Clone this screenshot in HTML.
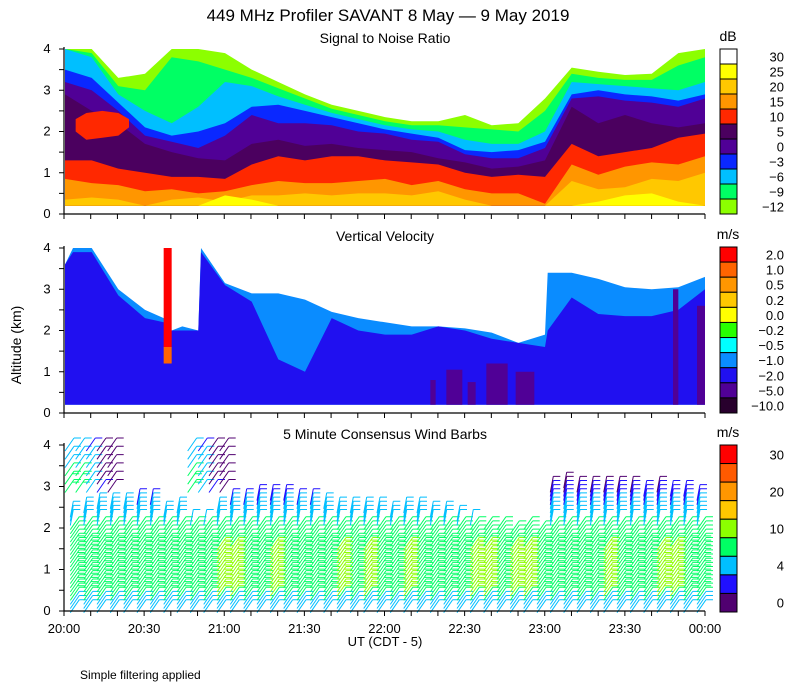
<!DOCTYPE html>
<html><head><meta charset="utf-8"><style>
html,body{margin:0;padding:0;background:#fff;}
svg{display:block;font-family:"Liberation Sans",sans-serif;}
</style></head><body>
<svg id="chart" width="800" height="700" viewBox="0 0 800 700" xmlns="http://www.w3.org/2000/svg">
<rect width="800" height="700" fill="#fff"/>
<text x="388" y="21" font-size="17" text-anchor="middle">449 MHz Profiler SAVANT  8 May —  9 May 2019</text>
<text x="385" y="43" font-size="14" text-anchor="middle">Signal to Noise Ratio</text>
<text x="385" y="241" font-size="14" text-anchor="middle">Vertical Velocity</text>
<text x="385" y="439" font-size="14" text-anchor="middle">5 Minute Consensus Wind Barbs</text>
<text x="0" y="0" font-size="14" text-anchor="middle" transform="translate(21,345) rotate(-90)">Altitude (km)</text>
<text x="385" y="646" font-size="13" text-anchor="middle">UT  (CDT - 5)</text>
<text x="80" y="679" font-size="12">Simple filtering applied</text>
<g id="g1"></g>
<g id="g2"></g>
<g id="g3"></g>
<g id="gax"></g>
<g id="gcb"></g>
</svg>
<script>
// ---------- data ----------
const snrTimes = [0,10,20,30,40,50,60,70,80,90,100,110,120,130,140,150,160,170,180,190,200,210,220,230,240];
const snrTopM12 = [4.0,4.0,3.3,3.4,4.0,4.0,3.9,3.5,3.2,2.9,2.65,2.5,2.35,2.25,2.25,2.4,2.15,2.2,2.8,3.55,3.45,3.37,3.4,3.9,4.0];
const snrTopM9  = [4.0,3.9,3.1,3.0,3.8,3.7,3.5,3.3,3.05,2.8,2.55,2.4,2.25,2.15,2.15,2.1,2.05,2.0,2.5,3.4,3.3,3.25,3.25,3.6,3.8];
const snrTopM6  = [4.0,3.8,2.9,2.5,2.2,2.6,3.2,3.1,2.85,2.65,2.45,2.3,2.15,2.05,2.0,1.8,1.7,1.7,2.0,3.2,3.15,3.1,3.05,3.0,3.2];
const snrTopM3  = [3.5,3.3,2.7,2.1,1.9,2.0,2.2,2.6,2.65,2.5,2.35,2.2,2.05,1.95,1.85,1.55,1.5,1.55,1.75,2.9,3.0,2.9,2.85,2.75,2.9];
const snrTop0   = [3.2,3.0,2.5,1.9,1.75,1.6,1.9,2.4,2.2,2.2,2.15,2.0,1.95,1.8,1.75,1.45,1.35,1.35,1.6,2.8,2.85,2.75,2.7,2.6,2.8];
const snrTop5   = [2.9,2.5,2.2,1.7,1.5,1.35,1.3,1.7,1.8,1.65,1.7,1.6,1.55,1.5,1.35,1.25,1.1,1.15,1.3,2.6,2.2,2.4,2.2,2.1,2.2];
const snrTop10  = [1.3,1.3,1.1,1.0,0.9,0.9,0.85,1.2,1.4,1.3,1.4,1.4,1.3,1.25,1.2,1.0,0.9,0.95,0.9,1.7,1.4,1.5,1.6,1.85,1.95];
const snrTop15  = [0.85,0.75,0.7,0.55,0.6,0.5,0.55,0.7,0.8,0.75,0.75,0.8,0.85,0.7,0.8,0.6,0.5,0.5,0.25,1.2,0.95,1.15,1.25,1.2,1.4];
const snrTop20  = [0.35,0.4,0.35,0.2,0.35,0.4,0.3,0.45,0.45,0.5,0.45,0.5,0.5,0.45,0.55,0.35,0.2,0.2,0.2,0.8,0.6,0.65,0.85,0.8,1.0];
const snrTop25  = [0.2,0.2,0.2,0.2,0.2,0.2,0.45,0.35,0.2,0.2,0.2,0.2,0.2,0.2,0.2,0.2,0.2,0.2,0.2,0.2,0.3,0.45,0.5,0.3,0.2];
const snrBlobTimes = [4,8,14,20,24];
const snrBlobLow = [2.0,1.8,1.85,1.9,2.1];
const snrBlobHigh = [2.3,2.45,2.5,2.45,2.3];

const vvTimes = [0,3,10,20,30,37,40,44,50,51,60,70,80,90,100,110,120,130,140,150,160,170,180,181,190,200,210,220,230,240];
const vvTop   = [3.6,4.0,4.0,3.0,2.5,2.3,2.0,2.1,2.0,4.0,3.15,2.9,2.9,2.75,2.45,2.3,2.2,2.1,2.1,2.05,1.95,1.7,1.9,3.4,3.4,3.25,3.05,3.0,3.05,3.3];
const vvBlueTop = [3.6,3.9,3.9,2.85,2.3,2.2,2.0,2.0,2.0,3.9,3.1,2.7,1.3,1.0,2.3,2.0,1.9,1.9,2.1,2.0,1.8,1.7,1.6,2.0,2.8,2.4,2.35,2.35,2.5,3.0];
const vvPurpleStart = [137,143,151,158,169,228,237];
const vvPurpleEnd   = [139,149,154,166,176,230,240];
const vvPurpleTop   = [0.8,1.05,0.75,1.2,1.0,3.0,2.6];
const vvRedStart = 37, vvRedEnd = 40, vvRedTop = 4.0, vvRedBottom = 1.6, vvOrangeBottom = 1.2;

const windTimes = [2,7,12,17,22,27,32,37,42,47,52,57,62,67,72,77,82,87,92,97,102,107,112,117,122,127,132,137,142,147,152,157,162,167,172,177,182,187,192,197,202,207,212,217,222,227,232,237];
const windColTop = [2.5,2.6,2.7,2.7,2.7,2.8,2.8,2.5,2.6,2.3,2.3,2.6,2.8,2.8,2.9,2.9,2.9,2.8,2.8,2.7,2.6,2.6,2.6,2.6,2.5,2.6,2.6,2.5,2.5,2.4,2.3,2.2,2.2,2.1,2.2,2.1,3.1,3.2,3.1,3.1,3.1,3.1,3.1,3.0,3.1,3.0,3.0,2.9];
const windColAdj = [0,0,0,0,0,0,0,0,0,0,0,2,2,0,0,2,0,0,0,0,2,0,2,0,0,2,0,0,0,0,2,2,0,2,2,0,0,0,0,0,2,0,0,0,2,2,0,0];
const windLevels = [0.2,0.3,0.4,0.5,0.6,0.7,0.8,0.9,1.0,1.1,1.2,1.3,1.4,1.5,1.6,1.7,1.8,1.9,2.0,2.1,2.2,2.3,2.4,2.5,2.6,2.7,2.8,2.9,3.0,3.1,3.2];
const windSpeeds = [5,6,6,7,8,8,8,9,9,9,8,8,8,8,8,8,8,7,7,7,7,6,5,5,5,4,3,3,3,2,2];
const windUpTimes = [0,4,8,12,16,46,50,54,58];
const windUpLevels = [3.0,3.2,3.4,3.6,3.8,4.0];
const windUpSpeeds = [8,8,6,3,2,8,6,3,2];

// ---------- helpers ----------
const NS='http://www.w3.org/2000/svg';
const X0=64, X1=705;
const P=[{top:49,bot:214},{top:248,bot:413},{top:445,bot:611}];
function xT(t){return X0+1+t*(X1-X0-1)/240;}
function yK(p,km){return P[p].bot-km*(P[p].bot-P[p].top)/4;}
function mk(tag,attrs,parent){const e=document.createElementNS(NS,tag);for(const k in attrs)e.setAttribute(k,attrs[k]);parent.appendChild(e);return e;}
function area(g,p,times,tops,base,color,name){
  let d='M'+xT(times[0])+','+yK(p,base);
  for(let i=0;i<times.length;i++)d+=' L'+xT(times[i]).toFixed(1)+','+yK(p,tops[i]).toFixed(1);
  d+=' L'+xT(times[times.length-1])+','+yK(p,base)+' Z';
  const e=mk('path',{d:d,fill:color},g);
  
  
}
const g1=document.getElementById('g1'),g2=document.getElementById('g2'),g3=document.getElementById('g3'),gax=document.getElementById('gax'),gcb=document.getElementById('gcb');

// ---------- SNR ----------
const snrCols=['#8cff00','#00ff64','#00bfff','#0a28ff','#500096','#4b005f','#ff2800','#ff9600','#ffc800','#ffff00'];
const snrLayers=[snrTopM12,snrTopM9,snrTopM6,snrTopM3,snrTop0,snrTop5,snrTop10,snrTop15,snrTop20,snrTop25];
snrLayers.forEach((L,i)=>area(g1,0,snrTimes,L,0.2,snrCols[i],'snr-level-'+i));
{
  let d='M'+xT(snrBlobTimes[0])+','+yK(0,snrBlobLow[0]);
  for(let i=0;i<snrBlobTimes.length;i++)d+=' L'+xT(snrBlobTimes[i])+','+yK(0,snrBlobHigh[i]);
  for(let i=snrBlobTimes.length-1;i>=0;i--)d+=' L'+xT(snrBlobTimes[i])+','+yK(0,snrBlobLow[i]);
  const e=mk('path',{d:d+'Z',fill:'#ff2800'},g1);
  
  
}

// ---------- Vertical velocity ----------
area(g2,1,vvTimes,vvTop,0.2,'#0a8cff','vv-light-blue');
area(g2,1,vvTimes,vvBlueTop,0.2,'#2010f0','vv-blue');
for(let i=0;i<vvPurpleStart.length;i++){
  const r=mk('rect',{x:xT(vvPurpleStart[i]),y:yK(1,vvPurpleTop[i]),width:xT(vvPurpleEnd[i])-xT(vvPurpleStart[i]),height:yK(1,0.2)-yK(1,vvPurpleTop[i]),fill:'#500096'},g2);
  
  
}
{
  const r=mk('rect',{x:xT(vvRedStart),y:yK(1,vvRedTop),width:xT(vvRedEnd)-xT(vvRedStart),height:yK(1,vvRedBottom)-yK(1,vvRedTop),fill:'#ff0000'},g2);
  
  
  const o=mk('rect',{x:xT(vvRedStart),y:yK(1,vvRedBottom),width:xT(vvRedEnd)-xT(vvRedStart),height:yK(1,vvOrangeBottom)-yK(1,vvRedBottom),fill:'#ff6400'},g2);
  
  
}

// ---------- Wind barbs ----------
function windColor(s){
  if(s<3)return '#500070'; if(s<4)return '#2010ff'; if(s<7)return '#00bfff';
  if(s<10)return '#00ff64'; if(s<15)return '#8cff00'; if(s<20)return '#ffc800'; if(s<25)return '#ff9600'; if(s<30)return '#ff5a00'; return '#ff0000';
}
function barb(x,y,s,steep){
  const c=windColor(s);
  const ex=x+(steep?3:9), ey=y-(steep?16:13);
  let d='M'+x.toFixed(1)+','+y.toFixed(1)+' L'+ex.toFixed(1)+','+ey.toFixed(1);
  const n=Math.max(1,Math.round(s/5));
  for(let k=0;k<n;k++){const fx=ex-k*(steep?0.6:1.8), fy=ey+k*2.6;d+=' M'+fx.toFixed(1)+','+fy.toFixed(1)+' l7,0';}
  const e=mk('path',{d:d,stroke:c,fill:'none','stroke-width':1},g3);
  
  
}
for(let c=0;c<windTimes.length;c++){
  for(let l=0;l<windLevels.length;l++){
    if(windLevels[l]>windColTop[c])break;
    const s=windSpeeds[l]+(windLevels[l]>0.5&&windLevels[l]<1.8?windColAdj[c]:0);
    barb(xT(windTimes[c]),yK(2,windLevels[l])+10,s,windLevels[l]>2.2);
  }
}
for(let c=0;c<windUpTimes.length;c++){
  for(let l=0;l<windUpLevels.length;l++){
    barb(xT(windUpTimes[c]),yK(2,windUpLevels[l])+6,windUpSpeeds[c]-l*0.5,false);
  }
}

// ---------- axes ----------
for(let p=0;p<3;p++){
  const t=P[p].top,b=P[p].bot;
  const a=mk('path',{d:'M'+X0+','+(t-2)+' L'+X0+','+b+' L'+X1+','+b,stroke:'#000',fill:'none','stroke-width':1.2},gax);
  
  
  let d='';
  for(let k=0;k<=8;k++){const y=yK(p,k*0.5);d+='M'+(X0-5)+','+y+' L'+X0+','+y+' ';}
  for(let m=0;m<=24;m++){const x=X0+m*(X1-X0)/24;d+='M'+x+','+b+' L'+x+','+(b+5)+' ';}
  const tk=mk('path',{d:d,stroke:'#000','stroke-width':1},gax);
  
  
  for(let k=0;k<=4;k++){
    const tx=mk('text',{x:47,y:yK(p,k)+4,'font-size':13,'text-anchor':'middle'},gax);tx.textContent=k;
    
    
  }
}
const xLabels=['20:00','20:30','21:00','21:30','22:00','22:30','23:00','23:30','00:00'];
xLabels.forEach((s,i)=>{
  const tx=mk('text',{x:X0+i*(X1-X0)/8,y:633,'font-size':13,'text-anchor':'middle'},gax);tx.textContent=s;
  
  
});

// ---------- colorbars ----------
function colorbar(top,bot,cols,labels,labelIdx,unit,name){
  const h=(bot-top)/cols.length;
  cols.forEach((c,i)=>{
    const r=mk('rect',{x:720,y:top+i*h,width:17,height:h,fill:c,stroke:'#000','stroke-width':1},gcb);
    
    
  });
  labels.forEach((s,i)=>{
    const tx=mk('text',{x:784,y:top+(labelIdx[i]+0.5)*h+5,'font-size':13,'text-anchor':'end'},gcb);tx.textContent=s;
    
    
  });
  const u=mk('text',{x:728,y:top-8,'font-size':14,'text-anchor':'middle'},gcb);u.textContent=unit;
  
  
}
colorbar(49,214,['#ffffff','#ffff00','#ffc800','#ff9600','#ff2800','#4b005f','#500096','#0a28ff','#00bfff','#00ff64','#8cff00'],
  ['30','25','20','15','10','5','0','−3','−6','−9','−12'],[0,1,2,3,4,5,6,7,8,9,10],'dB','snr-colorbar');
colorbar(247,413,['#ff0000','#ff6400','#ff9600','#ffc800','#ffff00','#28ff00','#00ffff','#0a8cff','#2010f0','#500096','#28002d'],
  ['2.0','1.0','0.5','0.2','0.0','−0.2','−0.5','−1.0','−2.0','−5.0','−10.0'],[0,1,2,3,4,5,6,7,8,9,10],'m/s','vv-colorbar');
colorbar(445,612,['#ff0000','#ff5a00','#ff9600','#ffc800','#8cff00','#00ff64','#00bfff','#2010ff','#500070'],
  ['30','20','10','4','0'],[0,2,4,6,8],'m/s','wind-colorbar');
</script>
</body></html>
